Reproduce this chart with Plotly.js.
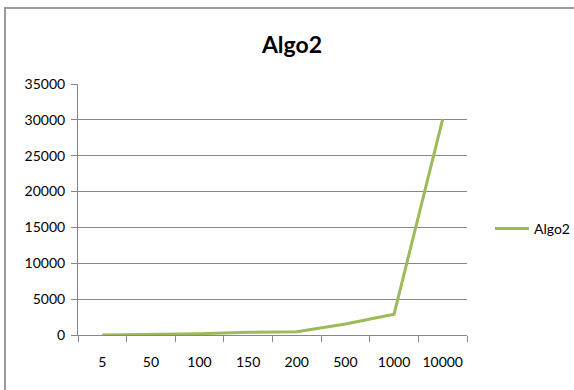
<!DOCTYPE html>
<html>
<head>
<meta charset="utf-8">
<script src="https://cdn.plot.ly/plotly-3.0.1.min.js"></script>
<style>
html,body{margin:0;padding:0;background:#fff;}
#chart{width:574px;height:390px;}
</style>
</head>
<body>
<div id="chart"></div>
<script>
var categories = ["5", "50", "100", "150", "200", "500", "1000", "10000"];
var seriesName = "Algo2";
var algo2Values = [0, 60, 180, 370, 460, 1530, 2900, 30100];
var yTicks = [0, 5000, 10000, 15000, 20000, 25000, 30000, 35000];

var L = 78, R = 467, T = 84, B = 335;
function px2x(p){ return (p - L) / (R - L); }
function px2y(p){ return (B - p) / (B - T); }

var trace = {
  x: categories,
  y: algo2Values,
  type: 'scatter',
  mode: 'lines',
  name: seriesName,
  line: {color: '#9BBB59', width: 3},
  cliponaxis: false
};

var font = {family: 'Lato, "Open Sans", sans-serif', size: 14, color: '#000'};

var layout = {
  width: 574, height: 390,
  margin: {l: L, r: 574 - R, t: T, b: 390 - B, pad: 0, autoexpand: false},
  paper_bgcolor: '#fff',
  plot_bgcolor: '#fff',
  font: font,
  title: {
    text: '<b>Algo2</b>',
    font: {family: 'Lato, "Open Sans", sans-serif', size: 23, color: '#000'},
    x: px2x(292), xref: 'paper', xanchor: 'center',
    y: 1 - 45/390, yref: 'container', yanchor: 'middle'
  },
  xaxis: {
    type: 'category',
    tickson: 'boundaries',
    ticks: 'outside', ticklen: 6, tickcolor: '#878787', tickwidth: 1,
    showline: true, linecolor: '#878787', linewidth: 1,
    showgrid: false, zeroline: false,
    ticklabelstandoff: 14,
    tickangle: 0,
    automargin: false,
    tickfont: font,
    range: [-0.5, categories.length - 0.5]
  },
  yaxis: {
    range: [0, 35000],
    tickvals: yTicks,
    ticktext: yTicks.map(String),
    ticks: 'outside', ticklen: 6, tickcolor: '#878787', tickwidth: 1,
    showline: true, linecolor: '#878787', linewidth: 1,
    showgrid: true, gridcolor: '#878787', gridwidth: 1,
    zeroline: false,
    ticklabelstandoff: 3,
    automargin: false,
    tickfont: font
  },
  showlegend: true,
  legend: {
    xref: 'container', yref: 'container',
    x: 490/574, xanchor: 'left',
    y: 1 - 229/390, yanchor: 'middle',
    font: font,
    bgcolor: 'rgba(0,0,0,0)',
    itemwidth: 34
  },
  shapes: [{
    type: 'rect', xref: 'paper', yref: 'paper',
    x0: px2x(5), x1: px2x(600), y0: px2y(420), y1: px2y(8),
    line: {color: '#9a9a9a', width: 2},
    fillcolor: 'rgba(0,0,0,0)',
    layer: 'below'
  }]
};

Plotly.newPlot('chart', [trace], layout, {displayModeBar: false, staticPlot: true});
</script>
</body>
</html>
